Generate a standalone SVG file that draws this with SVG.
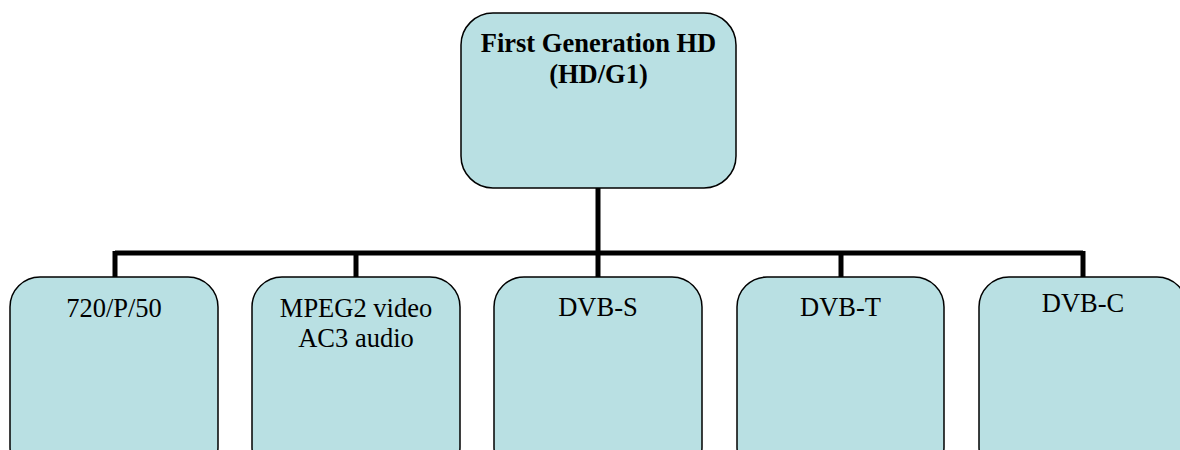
<svg xmlns="http://www.w3.org/2000/svg" width="1180" height="450" viewBox="0 0 1180 450">
<style>
.box{fill:#b9e0e3;stroke:#000;stroke-width:1.5}
.t{font-family:"Liberation Serif","Times New Roman",serif;font-size:26.5px;fill:#000;text-anchor:middle}
.b{font-weight:bold}
.c{stroke:#000;fill:none;stroke-width:5}
</style>
<rect width="1180" height="450" fill="#fff"/>
<g id="connectors">
<line class="c" x1="598" y1="188" x2="598" y2="253"/>
<line class="c" x1="115" y1="253" x2="1083" y2="253"/>
<line class="c" x1="115" y1="251" x2="115" y2="277"/>
<line class="c" x1="356" y1="251" x2="356" y2="277"/>
<line class="c" x1="598" y1="251" x2="598" y2="277"/>
<line class="c" x1="841" y1="251" x2="841" y2="277"/>
<line class="c" x1="1083" y1="251" x2="1083" y2="277"/>
</g>
<g id="root">
<rect class="box" x="461" y="13" width="275" height="175" rx="32"/>
<text class="t b" x="598.5" y="52">First Generation HD</text>
<text class="t b" x="598.5" y="83">(HD/G1)</text>
</g>
<g id="n720">
<rect class="box" x="10" y="277" width="208" height="200" rx="30"/>
<text class="t" x="114" y="317">720/P/50</text>
</g>
<g id="mpeg">
<rect class="box" x="252" y="277" width="208" height="200" rx="30"/>
<text class="t" x="356" y="317">MPEG2 video</text>
<text class="t" x="356" y="347">AC3 audio</text>
</g>
<g id="dvbs">
<rect class="box" x="494" y="277" width="208" height="200" rx="30"/>
<text class="t" x="598" y="316">DVB-S</text>
</g>
<g id="dvbt">
<rect class="box" x="737" y="277" width="207" height="200" rx="30"/>
<text class="t" x="840.5" y="316">DVB-T</text>
</g>
<g id="dvbc">
<rect class="box" x="979" y="277" width="208" height="200" rx="30"/>
<text class="t" x="1083" y="312">DVB-C</text>
</g>
</svg>
